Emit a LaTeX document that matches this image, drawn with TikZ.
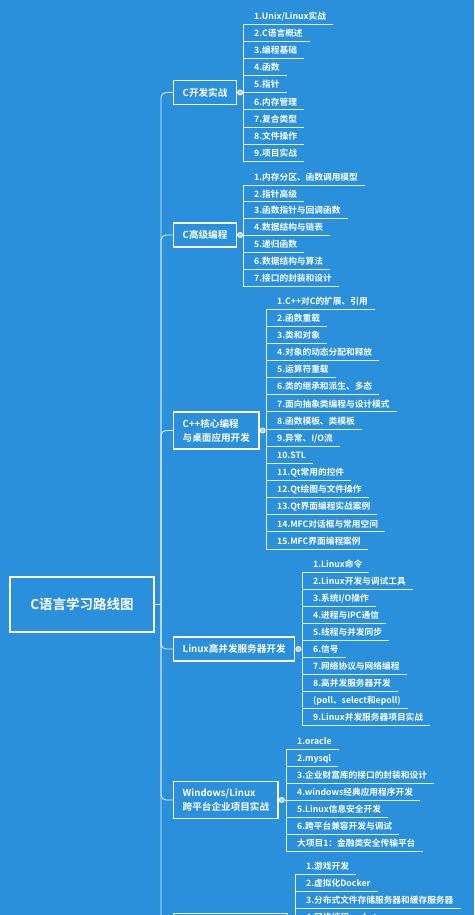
\documentclass[tikz,border=0pt]{standalone}
\usepackage{fontspec}
\setmainfont{Noto Sans CJK SC}[BoldFont={Noto Sans CJK SC Bold}]
\usetikzlibrary{calc}
\definecolor{bg}{RGB}{43,144,219}
\tikzset{
  conn/.style={draw=white, draw opacity=0.85, line width=0.9pt},
  grp/.style={draw=white, line width=1.4pt, text=white, font=\fontsize{9.6}{14}\selectfont\bfseries,
    align=left, inner xsep=9pt, inner ysep=7pt, minimum height=24pt},
  rootbox/.style={draw=white, line width=1.8pt, text=white, font=\fontsize{13.5}{16}\selectfont\bfseries,
    minimum width=144pt, minimum height=55pt},
  kid/.style={text=white, font=\fontsize{8.7}{10}\selectfont\bfseries, inner sep=0pt},
  dot/.style={circle, draw=white, line width=0.9pt, fill=white!60!bg, inner sep=0pt, minimum size=5pt},
}
% #1 group id, #2 vertical line x, #3 first text y, #4 spacing, #5 items
\newcommand\kidlist[5]{%
  \foreach \t [count=\i from 0] in {#5} {
    \pgfmathsetmacro\yy{#3+#4*\i}
    \node[kid, anchor=base west] (#1-\i) at (#2+11, \yy+3.2) {\t};
    \draw[conn] (#2, \yy+8) -- ($(#1-\i.base east)+(7,4.8)$);
  }
}
\begin{document}
\begin{tikzpicture}[x=1pt,y=-1pt]
\fill[bg] (0,0) rectangle (474,915);
\useasboundingbox (0,0) rectangle (474,915);
\clip (0,0) rectangle (474,915);

% root
\node[rootbox] (R) at (82,604.5) {C语言学习路线图};
\coordinate (T) at (161,604.5);
\draw[conn] (R.east) -- (T);

% groups
\node[grp, anchor=west] (G1) at (173,92.5) {C开发实战};
\node[grp, anchor=west] (G2) at (173,235) {C高级编程};
\node[grp, anchor=west] (G3) at (173,430.5) {C++核心编程\\与桌面应用开发};
\node[grp, anchor=west] (G4) at (173,649) {Linux高并发服务器开发};
\node[grp, anchor=west] (G5) at (173,800) {Windows/Linux\\跨平台企业项目实战};
\node[grp, anchor=north west, minimum width=114pt] (G6) at (173,913) {};

\foreach \g in {G1,G2,G3,G4,G5,G6} {
  \draw[conn, rounded corners=5pt] (T) |- (\g.west);
}

% dots and child spines
\foreach \g/\vx/\ya/\yb in {G1/243/24/161.5, G2/243/185/286, G3/266/309/549, G4/302/572/725, G5/286/749/851, G6/295/874/940} {
  \node[dot] (\g d) at ($(\g.east)+(3,0)$) {};
  \coordinate (\g v) at (\vx,0 |- \g.east);
  \draw[conn] (\g d) -- (\g v);
  \draw[conn] (\vx,\ya) -- (\vx,\yb);
}

\kidlist{a}{243}{16}{17.19}{1.Unix/Linux实战,2.C语言概述,3.编程基础,4.函数,5.指针,6.内存管理,7.复合类型,8.文件操作,9.项目实战}
\kidlist{b}{243}{177}{16.83}{1.内存分区、函数调用模型,2.指针高级,3.函数指针与回调函数,4.数据结构与链表,5.递归函数,6.数据结构与算法,7.接口的封装和设计}
\kidlist{c}{266}{301}{17.14}{1.C++对C的扩展、引用,2.函数重载,3.类和对象,4.对象的动态分配和释放,5.运算符重载,6.类的继承和派生、多态,7.面向抽象类编程与设计模式,8.函数模板、类模板,9.异常、I/O流,10.STL,11.Qt常用的控件,12.Qt绘图与文件操作,13.Qt界面编程实战案例,14.MFC对话框与常用空间,15.MFC界面编程案例}
\kidlist{d}{302}{564}{17}{1.Linux命令,2.Linux开发与调试工具,3.系统I/O操作,4.进程与IPC通信,5.线程与并发同步,6.信号,7.网络协议与网络编程,8.高并发服务器开发,{(poll、select和epoll)},9.Linux并发服务器项目实战}
\kidlist{e}{286}{741}{17}{1.oracle,2.mysql,3.企业财富库的接口的封装和设计,4.windows经典应用程序开发,5.Linux信息安全开发,6.跨平台兼容开发与调试,大项目1：金融类安全传输平台}
\kidlist{f}{295}{866}{17}{1.游戏开发,2.虚拟化Docker,3.分布式文件存储服务器和缓存服务器,4.网络编程socket}
\end{tikzpicture}
\end{document}
